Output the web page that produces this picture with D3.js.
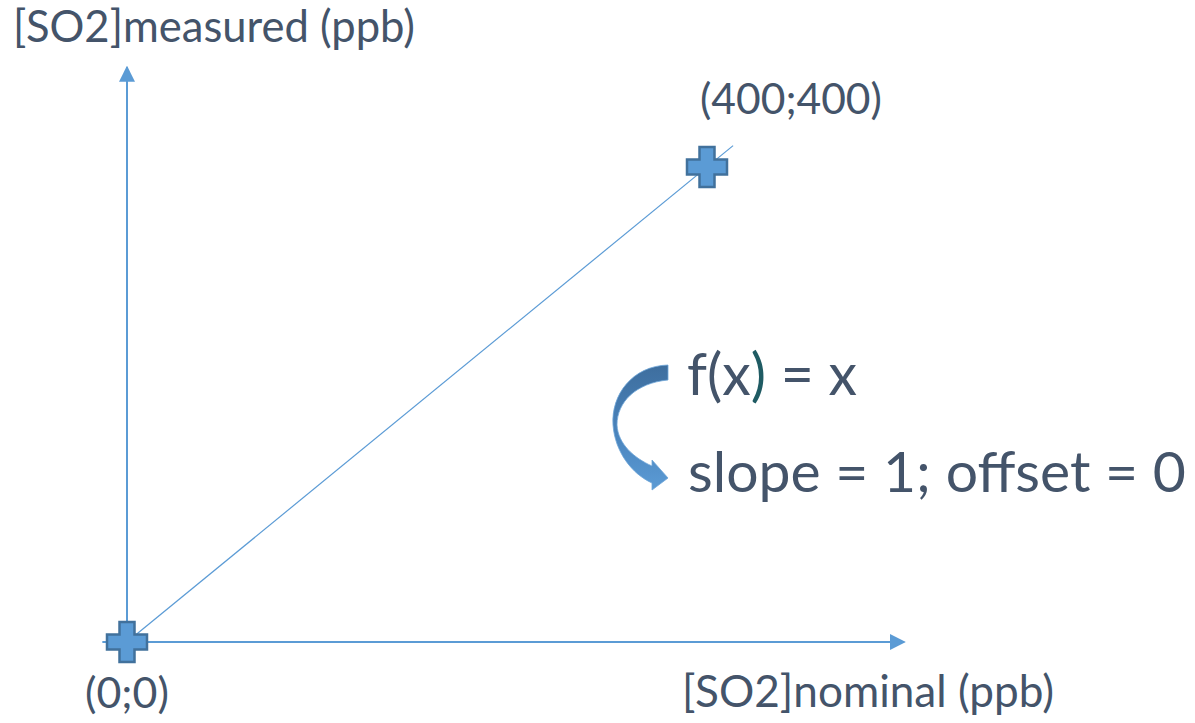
<!DOCTYPE html>
<html>
<head>
<meta charset="utf-8">
<script src="https://cdn.jsdelivr.net/npm/d3@7"></script>
<style>
  html, body { margin: 0; padding: 0; background: #ffffff; }
  svg { display: block; }
  text { font-family: Lato, "Open Sans", "DejaVu Sans", sans-serif; fill: #44546a; }
</style>
</head>
<body>
<svg id="chart" width="1195" height="723"></svg>
<script>
// Calibration points (nominal vs measured, ppb)
const pointNominal  = [0, 400];
const pointMeasured = [0, 400];
const pointLabels   = ["(0;0)", "(400;400)"];

// Fitted line f(x) = x drawn between these nominal values
const fitNominal  = [0, 418];
const fitMeasured = [0, 418];

// Axis extents in data units (arrows run past the plotted range)
const xAxisExtent = [-17, 536];
const yAxisExtent = [-15, 484];

// Texts
const yAxisTitle = "[SO2]measured (ppb)";
const xAxisTitle = "[SO2]nominal (ppb)";
const equationText = ["f(x", ")", " = x"];
const slopeText = "slope = 1; offset = 0";

const svg = d3.select("#chart");
const blue = "#5b9bd5", blueDark = "#41719c", textCol = "#44546a";

const x = d3.scaleLinear().domain([0, 400]).range([127, 707]);
const y = d3.scaleLinear().domain([0, 400]).range([642, 167]);

const defs = svg.append("defs");
function arrowMarker(id) {
  defs.append("marker")
    .attr("id", id)
    .attr("viewBox", "0 0 10 10")
    .attr("refX", 9).attr("refY", 5)
    .attr("markerUnits", "userSpaceOnUse")
    .attr("markerWidth", 16).attr("markerHeight", 17)
    .attr("orient", "auto")
    .append("path").attr("d", "M0,0 L10,5 L0,10 Z").attr("fill", blue);
}
arrowMarker("arrowHead");

// Axes
svg.append("line")
  .attr("x1", x(xAxisExtent[0])).attr("y1", y(0))
  .attr("x2", x(xAxisExtent[1])).attr("y2", y(0))
  .attr("stroke", blue).attr("stroke-width", 2)
  .attr("marker-end", "url(#arrowHead)");
svg.append("line")
  .attr("x1", x(0)).attr("y1", y(yAxisExtent[0]))
  .attr("x2", x(0)).attr("y2", y(yAxisExtent[1]))
  .attr("stroke", blue).attr("stroke-width", 2)
  .attr("marker-end", "url(#arrowHead)");

// Fitted line
const lineGen = d3.line().x(d => x(d[0])).y(d => y(d[1]));
svg.append("path")
  .datum(d3.zip(fitNominal, fitMeasured))
  .attr("d", lineGen)
  .attr("fill", "none").attr("stroke", blue).attr("stroke-width", 1.2);

// Plus-shaped point markers
const plusPath = (() => {
  const a = 20, w = 7.5;
  return `M${-w},${-a} H${w} V${-w} H${a} V${w} H${w} V${a} H${-w} V${w} H${-a} V${-w} H${-w} Z`;
})();
svg.selectAll("path.pt")
  .data(d3.zip(pointNominal, pointMeasured))
  .join("path")
  .attr("class", "pt")
  .attr("d", plusPath)
  .attr("transform", d => `translate(${x(d[0])},${y(d[1])})`)
  .attr("fill", blue).attr("stroke", blueDark).attr("stroke-width", 2.5)
  .attr("stroke-linejoin", "miter");

// Text placed at a left edge / baseline, font size fitted to a target width
function fitText(str, left, baseline, width, baseSize) {
  const t = svg.append("text").attr("x", left).attr("y", baseline)
    .attr("font-size", baseSize).text(str);
  const w = t.node().getComputedTextLength();
  t.attr("font-size", baseSize * width / w);
  return t;
}

fitText(yAxisTitle, 13, 42, 402, 40);
fitText(xAxisTitle, 682, 707, 372, 40);
fitText(pointLabels[0], 85, 708, 84, 40);
fitText(pointLabels[1], 700, 114, 182, 40);
fitText(slopeText, 688, 492, 498, 48);

// Equation with the closing parenthesis tinted
{
  const eq = svg.append("text").attr("x", 687).attr("y", 395).attr("font-size", 48);
  eq.selectAll("tspan").data(equationText).join("tspan")
    .text(d => d)
    .attr("fill", (d, i) => i === 1 ? "#1f5b63" : textCol);
  const w = eq.node().getComputedTextLength();
  eq.attr("font-size", 48 * 170 / w);
}

// Curved arrow from the equation down to the slope/offset line
const grad = defs.append("linearGradient").attr("id", "curveGrad")
  .attr("x1", 0).attr("y1", 0).attr("x2", 0).attr("y2", 1);
grad.append("stop").attr("offset", "0%").attr("stop-color", "#3e6e9e");
grad.append("stop").attr("offset", "55%").attr("stop-color", "#4a84bd");
grad.append("stop").attr("offset", "100%").attr("stop-color", "#5b9bd5");

const cp = d3.path();
cp.moveTo(668, 365);
cp.bezierCurveTo(632, 366, 611, 395, 613, 425);
cp.bezierCurveTo(615, 452, 632, 474, 652, 483);
cp.lineTo(652, 490);
cp.lineTo(668, 478);
cp.lineTo(652, 460);
cp.lineTo(652, 466);
cp.bezierCurveTo(634, 458, 618, 444, 617, 425);
cp.bezierCurveTo(617, 402, 636, 383, 668, 380);
cp.closePath();
svg.append("path").attr("d", cp.toString())
  .attr("fill", "url(#curveGrad)")
  .attr("stroke", "#6fa6d8").attr("stroke-width", 0.8);
</script>
</body>
</html>
